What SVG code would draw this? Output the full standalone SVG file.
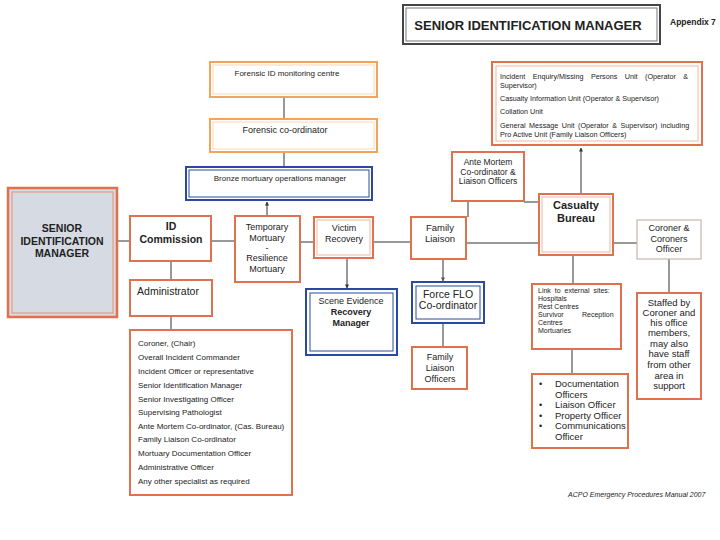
<svg xmlns="http://www.w3.org/2000/svg" width="720" height="540" viewBox="0 0 720 540">
<defs>
<marker id="ah" viewBox="0 0 10 10" refX="9" refY="5" markerWidth="4" markerHeight="4" orient="auto"><path d="M0,0 L10,5 L0,10 z" fill="#333"/></marker>
<marker id="ahg" viewBox="0 0 10 10" refX="9" refY="5" markerWidth="4" markerHeight="4" orient="auto"><path d="M0,0 L10,5 L0,10 z" fill="#555"/></marker>
<style>
text{font-family:"Liberation Sans",Arial,sans-serif;fill:#222}
.o{fill:#fff;stroke:#e0704e;stroke-width:2}
.oi{fill:none;stroke:#f2b8a0;stroke-width:1}
.f{fill:#fff;stroke:#f0a45c;stroke-width:2}
.fi{fill:none;stroke:#f8d8b8;stroke-width:1}
.b{fill:#fff;stroke:#2a4aa0;stroke-width:2}
.bi{fill:none;stroke:#2a4aa0;stroke-width:1}
.g{fill:#fff;stroke:#c8b8b0;stroke-width:1.2}
.c{stroke:#333;stroke-width:1;fill:none}
.s{font-size:8px}
.l{font-size:10.5px}
.bd{font-weight:bold}
</style>
</defs>

<g id="title">
<rect x="403" y="5" width="257" height="39" fill="#fff" stroke="#444" stroke-width="2"/>
<rect x="406" y="8" width="251" height="33" fill="none" stroke="#777" stroke-width="1"/>
<text x="528" y="30" font-size="13" font-weight="bold" text-anchor="middle">SENIOR IDENTIFICATION MANAGER</text>
</g>
<text x="670" y="25" font-size="8.5" font-weight="bold">Appendix 7</text>

<g id="connectors">
<line class="c" x1="284" y1="97" x2="284" y2="119"/>
<line class="c" x1="284" y1="152" x2="284" y2="167"/>
<line class="c" x1="267" y1="216" x2="267" y2="202" stroke-width="2" marker-end="url(#ah)"/>
<line class="c" x1="117" y1="241" x2="130" y2="241"/>
<line class="c" x1="211" y1="241" x2="234" y2="241"/>
<line class="c" x1="300" y1="242" x2="314" y2="242"/>
<line class="c" x1="373" y1="242" x2="411" y2="242"/>
<line class="c" x1="347" y1="258" x2="347" y2="288" stroke-width="2.5" marker-end="url(#ah)"/>
<line class="c" x1="443" y1="259" x2="443" y2="281" stroke="#555" stroke-width="3" marker-end="url(#ahg)"/>
<line class="c" x1="443" y1="323" x2="443" y2="347" stroke="#666"/>
<line class="c" x1="468" y1="201" x2="468" y2="217"/>
<line class="c" x1="524" y1="202" x2="539" y2="202"/>
<line class="c" x1="466" y1="243" x2="539" y2="243"/>
<line class="c" x1="581" y1="194" x2="581" y2="148" stroke-width="2.5" marker-end="url(#ah)"/>
<line class="c" x1="613" y1="243" x2="637" y2="243" stroke="#bbb"/>
<line class="c" x1="573" y1="255" x2="573" y2="284"/>
<line class="c" x1="572" y1="349" x2="572" y2="374"/>
<line class="c" x1="669" y1="259" x2="669" y2="293"/>
<line class="c" x1="171" y1="261" x2="171" y2="280"/>
<line class="c" x1="171" y1="316" x2="171" y2="330"/>
</g>

<g id="forensic-id">
<rect class="f" x="210" y="62" width="167" height="35"/>
<rect class="fi" x="213" y="65" width="161" height="29"/>
<text class="s" x="287" y="76" text-anchor="middle">Forensic ID monitoring centre</text>
</g>
<g id="forensic-coord">
<rect class="f" x="210" y="119" width="167" height="33"/>
<rect class="fi" x="213" y="122" width="161" height="27"/>
<text x="285" y="133" font-size="9" text-anchor="middle">Forensic co-ordinator</text>
</g>
<g id="bronze">
<rect class="b" x="186" y="167" width="186" height="33"/>
<rect class="bi" x="189" y="170" width="180" height="27"/>
<text class="s" x="280" y="181" text-anchor="middle">Bronze mortuary operations manager</text>
</g>

<g id="sim">
<rect x="8" y="188" width="109" height="129" fill="#d6dae2" stroke="#e0704e" stroke-width="2.5"/>
<rect x="12" y="192" width="101" height="121" fill="none" stroke="#e89070" stroke-width="1"/>
<text x="62" y="232" font-size="10.5" font-weight="bold" text-anchor="middle">SENIOR</text>
<text x="62" y="245" font-size="10.5" font-weight="bold" text-anchor="middle">IDENTIFICATION</text>
<text x="62" y="257" font-size="10.5" font-weight="bold" text-anchor="middle">MANAGER</text>
</g>

<g id="id-commission">
<rect class="o" x="130" y="216" width="81" height="45" stroke-width="1.2"/>
<text class="l bd" x="171" y="230" text-anchor="middle">ID</text>
<text class="l bd" x="171" y="243" text-anchor="middle">Commission</text>
</g>
<g id="administrator">
<rect class="o" x="130" y="280" width="82" height="36" stroke-width="1.2"/>
<text x="168" y="295" font-size="10.5" text-anchor="middle">Administrator</text>
</g>

<g id="temp-mortuary">
<rect class="o" x="235" y="216" width="65" height="66"/>
<text x="267" y="230" font-size="9" text-anchor="middle">Temporary</text>
<text x="267" y="241" font-size="9" text-anchor="middle">Mortuary</text>
<text x="267" y="251" font-size="9" text-anchor="middle">-</text>
<text x="267" y="261" font-size="9" text-anchor="middle">Resilience</text>
<text x="267" y="272" font-size="9" text-anchor="middle">Mortuary</text>
</g>
<g id="victim-recovery">
<rect class="o" x="314" y="217" width="59" height="41"/>
<rect class="oi" x="317" y="220" width="53" height="35"/>
<text x="344" y="231" font-size="9" text-anchor="middle">Victim</text>
<text x="344" y="242" font-size="9" text-anchor="middle">Recovery</text>
</g>
<g id="family-liaison">
<rect class="o" x="411" y="217" width="55" height="42"/>
<text x="440" y="231" font-size="9.5" text-anchor="middle">Family</text>
<text x="440" y="242" font-size="9.5" text-anchor="middle">Liaison</text>
</g>
<g id="scene-evidence">
<rect class="b" x="306" y="289" width="91" height="66" stroke-width="2.5"/>
<rect class="bi" x="310" y="293" width="83" height="58"/>
<text x="351" y="304" font-size="9" text-anchor="middle">Scene Evidence</text>
<text x="351" y="315" font-size="9" font-weight="bold" text-anchor="middle">Recovery</text>
<text x="351" y="326" font-size="9" font-weight="bold" text-anchor="middle">Manager</text>
</g>
<g id="force-flo">
<rect class="b" x="412" y="282" width="72" height="41" stroke-width="3"/>
<rect class="bi" x="416" y="286" width="64" height="33"/>
<text x="448" y="298" font-size="10.5" text-anchor="middle">Force FLO</text>
<text x="448" y="309" font-size="10.5" text-anchor="middle">Co-ordinator</text>
</g>
<g id="flo-officers">
<rect class="o" x="412" y="347" width="55" height="42"/>
<text x="440" y="360" font-size="9" text-anchor="middle">Family</text>
<text x="440" y="371" font-size="9" text-anchor="middle">Liaison</text>
<text x="440" y="382" font-size="9" text-anchor="middle">Officers</text>
</g>

<g id="ante-mortem">
<rect class="o" x="452" y="152" width="72" height="49"/>
<text x="488" y="165" font-size="8.5" text-anchor="middle">Ante Mortem</text>
<text x="488" y="175" font-size="8.5" text-anchor="middle">Co-ordinator &amp;</text>
<text x="488" y="184" font-size="8.5" text-anchor="middle">Liaison Officers</text>
</g>
<g id="casualty-bureau">
<rect class="o" x="539" y="194" width="74" height="61"/>
<rect class="oi" x="542" y="197" width="68" height="55"/>
<text x="576" y="209" font-size="11" font-weight="bold" text-anchor="middle">Casualty</text>
<text x="576" y="222" font-size="11" font-weight="bold" text-anchor="middle">Bureau</text>
</g>
<g id="units">
<rect class="o" x="492" y="62" width="210" height="83" stroke-width="2.5"/>
<rect class="oi" x="496" y="66" width="202" height="75"/>
<text x="500" y="79" font-size="7.2" word-spacing="5.5">Incident Enquiry/Missing Persons Unit (Operator &amp;</text>
<text x="500" y="88" font-size="7.2">Supervisor)</text>
<text x="500" y="101" font-size="7.2">Casualty Information Unit (Operator &amp; Supervisor)</text>
<text x="500" y="114" font-size="7.2">Collation Unit</text>
<text x="500" y="128" font-size="7.2" word-spacing="1.5">General Message Unit (Operator &amp; Supervisor) including</text>
<text x="500" y="137" font-size="7.2">Pro Active Unit (Family Liaison Officers)</text>
</g>
<g id="coroner">
<rect class="g" x="637" y="220" width="64" height="39"/>
<text x="669" y="231" font-size="9" text-anchor="middle">Coroner &amp;</text>
<text x="669" y="242" font-size="9" text-anchor="middle">Coroners</text>
<text x="669" y="252" font-size="9" text-anchor="middle">Officer</text>
</g>
<g id="link-sites">
<rect class="o" x="532" y="284" width="89" height="65" stroke-width="1.2"/>
<text x="538" y="293" font-size="7" word-spacing="2">Link to external sites:</text>
<text x="538" y="301" font-size="7">Hospitals</text>
<text x="538" y="309" font-size="7">Rest Centres</text>
<text y="317" font-size="7"><tspan x="538">Survivor</tspan><tspan x="582">Reception</tspan></text>
<text x="538" y="325" font-size="7">Centres</text>
<text x="538" y="333" font-size="7">Mortuaries</text>
</g>
<g id="documentation">
<rect class="o" x="532" y="374" width="96" height="74" stroke-width="1.2"/>
<text x="539" y="387" font-size="9">•</text>
<text x="555" y="387" font-size="9.5">Documentation</text>
<text x="555" y="398" font-size="9.5">Officers</text>
<text x="539" y="408" font-size="9">•</text>
<text x="555" y="408" font-size="9.5">Liaison Officer</text>
<text x="539" y="419" font-size="9">•</text>
<text x="555" y="419" font-size="9.5">Property Officer</text>
<text x="539" y="429" font-size="9">•</text>
<text x="555" y="429" font-size="9.5">Communications</text>
<text x="555" y="440" font-size="9.5">Officer</text>
</g>
<g id="staffed">
<rect class="o" x="637" y="293" width="64" height="106" stroke-width="1.2"/>
<text x="669" y="306" font-size="9.5" text-anchor="middle">Staffed by</text>
<text x="669" y="316" font-size="9.5" text-anchor="middle">Coroner and</text>
<text x="669" y="326" font-size="9.5" text-anchor="middle">his office</text>
<text x="669" y="336" font-size="9.5" text-anchor="middle">members,</text>
<text x="669" y="347" font-size="9.5" text-anchor="middle">may also</text>
<text x="669" y="357" font-size="9.5" text-anchor="middle">have staff</text>
<text x="669" y="368" font-size="9.5" text-anchor="middle">from other</text>
<text x="669" y="379" font-size="9.5" text-anchor="middle">area in</text>
<text x="669" y="389" font-size="9.5" text-anchor="middle">support</text>
</g>
<g id="members">
<rect class="o" x="130" y="330" width="162" height="165" stroke-width="2.5"/>
<text class="s" x="138" y="346">Coroner, (Chair)</text>
<text class="s" x="138" y="360">Overall Incident Commander</text>
<text class="s" x="138" y="374">Incident Officer or representative</text>
<text class="s" x="138" y="388">Senior Identification Manager</text>
<text class="s" x="138" y="402">Senior Investigating Officer</text>
<text class="s" x="138" y="415">Supervising Pathologist</text>
<text class="s" x="138" y="429">Ante Mortem Co-ordinator, (Cas. Bureau)</text>
<text class="s" x="138" y="442">Family Liaison Co-ordinator</text>
<text class="s" x="138" y="456">Mortuary Documentation Officer</text>
<text class="s" x="138" y="470">Administrative Officer</text>
<text class="s" x="138" y="484">Any other specialist as required</text>
</g>
<text x="568" y="497" font-size="7" font-style="italic">ACPO Emergency Procedures Manual 2007</text>
</svg>
